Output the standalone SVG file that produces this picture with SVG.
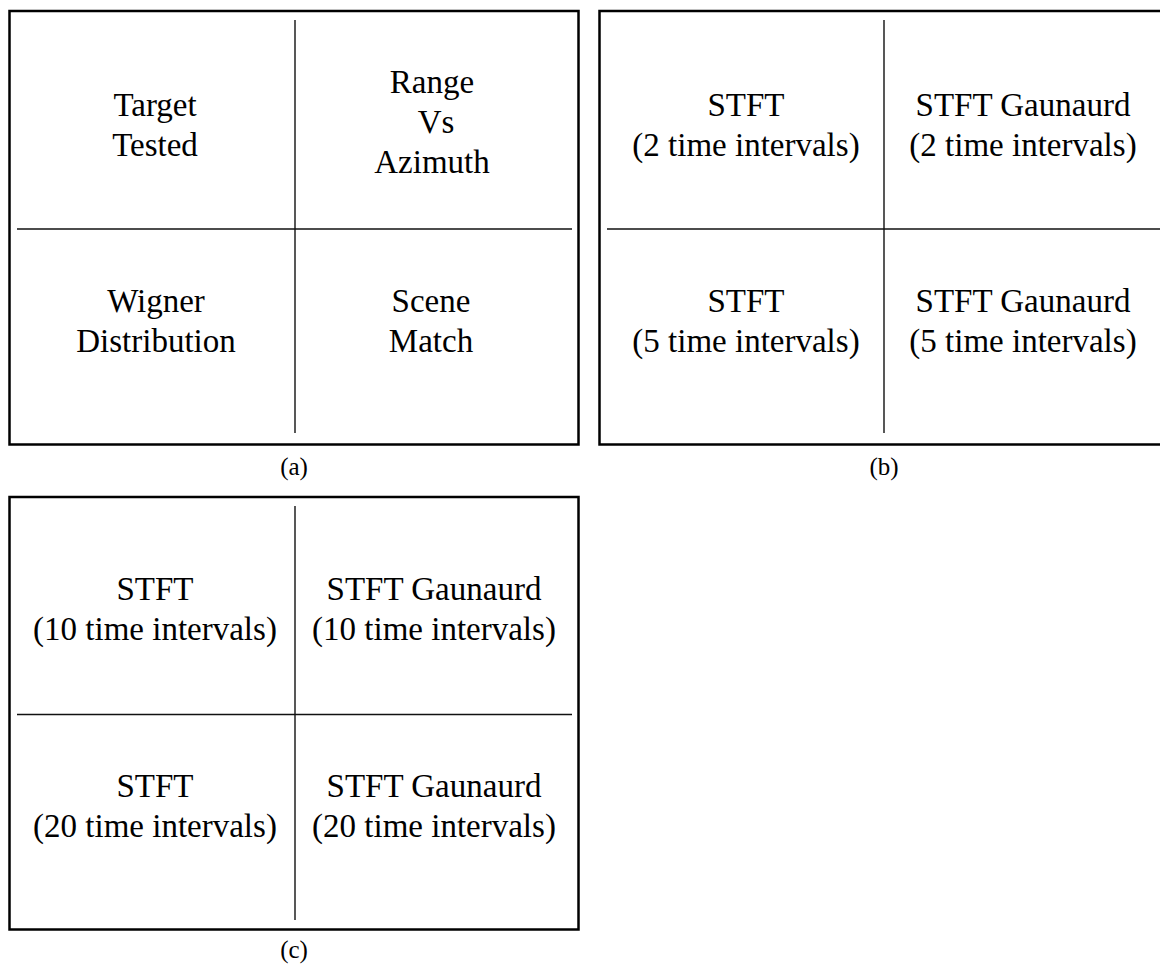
<svg xmlns="http://www.w3.org/2000/svg" width="1160" height="966" viewBox="0 0 1160 966">
  <style>
    .frame { fill: none; stroke: #000; stroke-width: 2.5; }
    .rule { stroke: #111; stroke-width: 1.4; fill: none; }
    .cell { font-family: "Liberation Serif", "Times New Roman", serif; font-size: 33px; fill: #000; text-anchor: middle; }
    .cap { font-family: "Liberation Serif", "Times New Roman", serif; font-size: 25px; fill: #000; text-anchor: middle; }
  </style>
  <rect width="1160" height="966" fill="#fff"/>

  <!-- Panel (a) -->
  <g id="panel-a">
    <rect class="frame" x="9.5" y="11" width="569" height="433.5"/>
    <g id="a-dividers">
      <line class="rule" x1="295" y1="20" x2="295" y2="433"/>
      <line class="rule" x1="17" y1="229" x2="572" y2="229"/>
    </g>
    <g id="a-target-tested"><text class="cell" x="155" y="116">Target</text><text class="cell" x="155" y="156">Tested</text></g>
    <g id="a-range-azimuth"><text class="cell" x="432" y="93">Range</text><text class="cell" x="436" y="133">Vs</text><text class="cell" x="432" y="173">Azimuth</text></g>
    <g id="a-wigner"><text class="cell" x="156" y="312">Wigner</text><text class="cell" x="156" y="352">Distribution</text></g>
    <g id="a-scene-match"><text class="cell" x="431" y="312">Scene</text><text class="cell" x="431" y="352">Match</text></g>
    <text class="cap" x="294" y="475">(a)</text>
  </g>

  <!-- Panel (b) -->
  <g id="panel-b">
    <rect class="frame" x="599.5" y="11" width="580" height="433.5"/>
    <g id="b-dividers">
      <line class="rule" x1="884" y1="20" x2="884" y2="433"/>
      <line class="rule" x1="607" y1="229" x2="1160" y2="229"/>
    </g>
    <g id="b-stft-2"><text class="cell" x="746" y="116">STFT</text><text class="cell" x="746" y="156">(2 time intervals)</text></g>
    <g id="b-gaunaurd-2"><text class="cell" x="1023" y="116">STFT Gaunaurd</text><text class="cell" x="1023" y="156">(2 time intervals)</text></g>
    <g id="b-stft-5"><text class="cell" x="746" y="312">STFT</text><text class="cell" x="746" y="352">(5 time intervals)</text></g>
    <g id="b-gaunaurd-5"><text class="cell" x="1023" y="312">STFT Gaunaurd</text><text class="cell" x="1023" y="352">(5 time intervals)</text></g>
    <text class="cap" x="884" y="475">(b)</text>
  </g>

  <!-- Panel (c) -->
  <g id="panel-c">
    <rect class="frame" x="9.5" y="497" width="569" height="432.5"/>
    <g id="c-dividers">
      <line class="rule" x1="295" y1="506" x2="295" y2="920"/>
      <line class="rule" x1="17" y1="714.5" x2="572" y2="714.5"/>
    </g>
    <g id="c-stft-10"><text class="cell" x="155" y="600">STFT</text><text class="cell" x="155" y="640">(10 time intervals)</text></g>
    <g id="c-gaunaurd-10"><text class="cell" x="434" y="600">STFT Gaunaurd</text><text class="cell" x="434" y="640">(10 time intervals)</text></g>
    <g id="c-stft-20"><text class="cell" x="155" y="797">STFT</text><text class="cell" x="155" y="837">(20 time intervals)</text></g>
    <g id="c-gaunaurd-20"><text class="cell" x="434" y="797">STFT Gaunaurd</text><text class="cell" x="434" y="837">(20 time intervals)</text></g>
    <text class="cap" x="294" y="958">(c)</text>
  </g>
</svg>
